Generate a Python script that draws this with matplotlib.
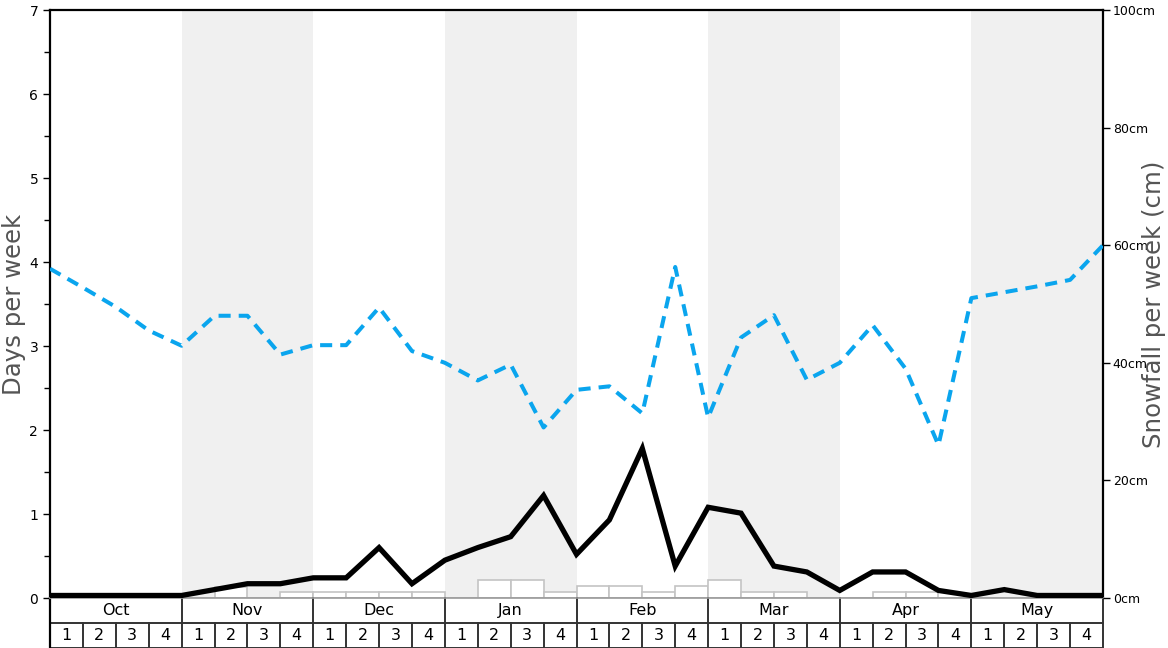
import numpy as np
import matplotlib
matplotlib.use("Agg")
import matplotlib.pyplot as plt
from matplotlib.transforms import blended_transform_factory

months = ["Oct", "Nov", "Dec", "Jan", "Feb", "Mar", "Apr", "May"]
week_labels = ["1", "2", "3", "4"]

# weekly values at week boundaries (33 points, days per week scale)
snow_days = [0.03, 0.03, 0.03, 0.03, 0.03, 0.10, 0.17, 0.17, 0.24, 0.24,
             0.60, 0.17, 0.45, 0.60, 0.73, 1.22, 0.52, 0.93, 1.78, 0.38,
             1.08, 1.01, 0.38, 0.31, 0.09, 0.31, 0.31, 0.09, 0.03, 0.10,
             0.03, 0.03, 0.03]
snowfall_cm = [56.0, 52.8, 49.5, 45.5, 42.9, 48.0, 48.0, 41.4, 43.0, 43.0,
               49.4, 42.0, 40.0, 37.0, 39.7, 29.0, 35.4, 36.0, 31.4, 56.3,
               30.7, 44.3, 48.1, 37.1, 40.0, 46.4, 39.0, 26.0, 51.0, 52.0,
               53.0, 54.1, 60.0]
# per-week bars (32 weeks)
bar_days = [0, 0, 0, 0, 0, 0.13, 0, 0.07, 0.07, 0.07, 0.07, 0.07,
            0, 0.21, 0.21, 0.07, 0.14, 0.14, 0.07, 0.14, 0.21, 0.07, 0.07, 0,
            0, 0.07, 0.07, 0, 0, 0, 0, 0]

n_weeks = len(bar_days)
fig = plt.figure(figsize=(11.68, 6.48), dpi=100)
ax = fig.add_axes([50/1168, 50/648, 1053/1168, 588/648])

# alternating month shading
for i in range(len(months)):
    if i % 2 == 1:
        ax.axvspan(i*4, i*4 + 4, color="#f0f0f0", lw=0, zorder=0)

ax.bar(np.arange(n_weeks) + 0.5, bar_days, width=1.0, color="white",
       edgecolor="#c4c4c4", linewidth=1.2, zorder=2)

ax.plot(np.arange(n_weeks + 1), snow_days, color="black", lw=3.8,
        solid_joinstyle="miter", zorder=4)

ax.set_xlim(0, n_weeks)
ax.set_ylim(0, 7)
ax.set_xticks([])
ax.set_yticks(range(8))
ax.set_yticks(np.arange(0.5, 7, 1), minor=True)
ax.tick_params(axis="y", which="major", length=5, width=1, labelsize=10, direction="out")
ax.tick_params(axis="y", which="minor", length=4, width=1)
for s in ["left", "right", "top"]:
    ax.spines[s].set_linewidth(1.6)
ax.spines["bottom"].set_color("#999999")
ax.spines["bottom"].set_linewidth(1.2)
ax.set_ylabel("Days per week", fontsize=17.6, color="#555555")
ax.yaxis.set_label_coords(-0.0225, 0.5)

ax2 = ax.twinx()
ax2.plot(np.arange(n_weeks + 1), snowfall_cm, color="#0aa5ee", lw=2.9,
         dashes=(3, 2), zorder=5)
ax2.set_ylim(0, 100)
ax2.set_yticks(range(0, 101, 20))
ax2.set_yticklabels([f"{v}cm" for v in range(0, 101, 20)])
ax2.tick_params(axis="y", length=5, width=1, labelsize=9, pad=2)
for s in ax2.spines.values():
    s.set_visible(False)
ax2.set_ylabel("Snowfall per week (cm)", fontsize=17.6, color="#555555")
ax2.yaxis.set_label_coords(1.037, 0.5)

# month / week table under the axis
trans = blended_transform_factory(ax.transData, ax.transAxes)
row = 25 / 588
edge = "#333333"
ax.plot([0, n_weeks], [-row, -row], transform=trans, color=edge, lw=1.4, clip_on=False)
ax.plot([0, n_weeks], [-2*row, -2*row], transform=trans, color=edge, lw=1.4, clip_on=False)
for m, name in enumerate(months):
    ax.text(m*4 + 2, -row/2, name, transform=trans, ha="center", va="center", fontsize=11.5)
    ax.plot([m*4, m*4], [0, -2*row], transform=trans, color=edge, lw=1.4, clip_on=False)
    for w, wl in enumerate(week_labels):
        x = m*4 + w
        ax.text(x + 0.5, -1.5*row, wl, transform=trans, ha="center", va="center", fontsize=11.5)
        if w > 0:
            ax.plot([x, x], [-row, -2*row], transform=trans, color=edge, lw=1.4, clip_on=False)
ax.plot([n_weeks, n_weeks], [0, -2*row], transform=trans, color=edge, lw=1.4, clip_on=False)
ax.plot([0, 0], [0, -2*row], transform=trans, color="black", lw=1.6, clip_on=False)

fig.savefig("out.png", dpi=100)
